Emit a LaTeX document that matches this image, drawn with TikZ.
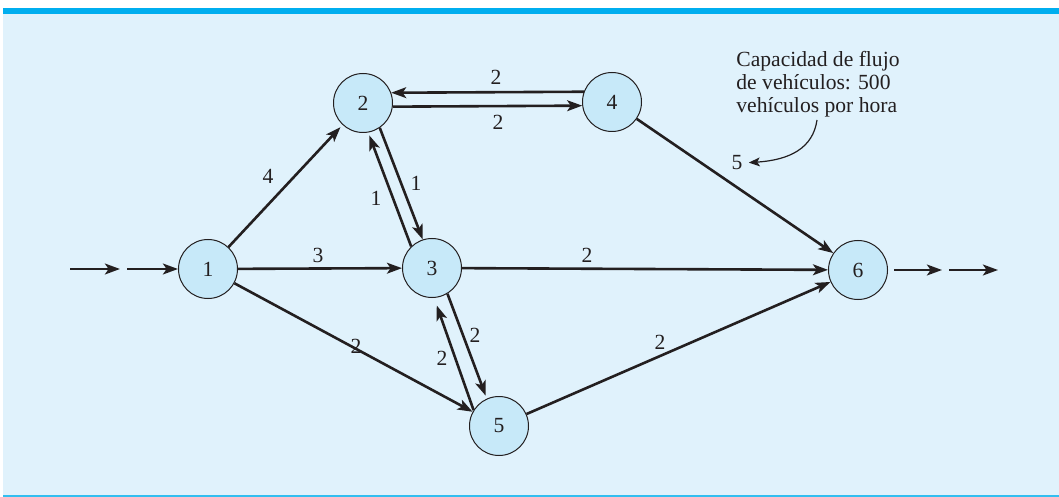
\documentclass[tikz,border=0pt]{standalone}
\usepackage{fontspec}
\setmainfont{Liberation Serif}
\usetikzlibrary{arrows.meta,calc}

\definecolor{fondo}{RGB}{224,242,252}
\definecolor{barra}{RGB}{0,174,239}
\definecolor{linea}{RGB}{50,190,240}
\definecolor{celeste}{RGB}{199,233,249}
\definecolor{tinta}{RGB}{35,31,32}

\begin{document}
\begin{tikzpicture}[x=.5pt,y=-.5pt,
  font=\fontsize{10.8}{11.5}\selectfont,
  nodo/.style={circle,draw=tinta,line width=.5pt,fill=celeste,minimum size=29.5pt,inner sep=0pt,text=tinta},
  arista/.style={draw=tinta,line width=1.3pt,-{Stealth[length=7.5pt,width=5.4pt,inset=1.8pt]}},
  etq/.style={inner sep=0pt,text=tinta}]
  \useasboundingbox (0,0) rectangle (1059,497);
  % fondo y marco
  \fill[fondo] (3,8) rectangle (1059,497);
  \fill[barra] (3,8) rectangle (1059,14);
  \draw[linea,line width=1.2pt] (3,495.8) -- (1059,495.8);

  % nodos de la red
  \node[nodo] (n1) at (208,269) {1};
  \node[nodo] (n2) at (363,103) {2};
  \node[nodo] (n3) at (432,268) {3};
  \node[nodo] (n4) at (612,102) {4};
  \node[nodo] (n5) at (499,426) {5};
  \node[nodo] (n6) at (858,270) {6};

  % entrada y salida
  \coordinate (e1) at (70,269);
  \coordinate (e2) at (120,269);
  \coordinate (e3) at (127,269);
  \coordinate (s2) at (942,270);
  \coordinate (s3) at (949,270);
  \coordinate (s4) at (998,270);
  \draw[arista] (e1) -- (e2);
  \draw[arista] (e3) -- (n1);
  \draw[arista,shorten <=3pt] (n6) -- (s2);
  \draw[arista] (s3) -- (s4);

  % arcos
  \draw[arista,shorten >=1.5pt] (n1) -- (n2);
  \draw[arista] (n1) -- (n3);
  \draw[arista] (n1) -- (n5);
  \draw[arista] (n4.160) -- (n2.20);
  \draw[arista] (n2.-7) -- (n4.-173);
  \draw[arista] (n2.-56) -- (n3.108);
  \draw[arista,shorten >=1.5pt] (n3.134) -- (n2.-80);
  \draw[arista,shorten >=1.5pt] (n3.-59) -- (n5.114);
  \draw[arista,shorten >=4pt] (n5.148) -- (n3.-86);
  \draw[arista] (n3) -- (n6);
  \draw[arista] (n4) -- (n6);
  \draw[arista] (n5) -- (n6);

  % capacidades
  \node[etq] (l12) at (268,176) {4};
  \node[etq] (l13) at (318,255) {3};
  \node[etq] (l15) at (356,346) {2};
  \node[etq] (l42) at (496,77) {2};
  \node[etq] (l24) at (498,122) {2};
  \node[etq] (l23) at (416,183) {1};
  \node[etq] (l32) at (376,198) {1};
  \node[etq] (l35) at (475,335) {2};
  \node[etq] (l53) at (442,358) {2};
  \node[etq] (l36) at (587,255) {2};
  \node[etq] (l56) at (660,342) {2};
  \node[etq] (l46) at (737,163) {5};

  % nota
  \node[etq,anchor=north west,align=left] (nota) at (736,51)
    {Capacidad de flujo\\de vehículos: 500\\vehículos por hora};
  \coordinate (c1) at (817,120);
  \draw[tinta,line width=.6pt,shorten >=3pt,-{Stealth[length=5.5pt,width=4.4pt,inset=1.3pt]}]
    (c1) .. controls (813,148) and (790,160) .. (l46.east);
\end{tikzpicture}
\end{document}
